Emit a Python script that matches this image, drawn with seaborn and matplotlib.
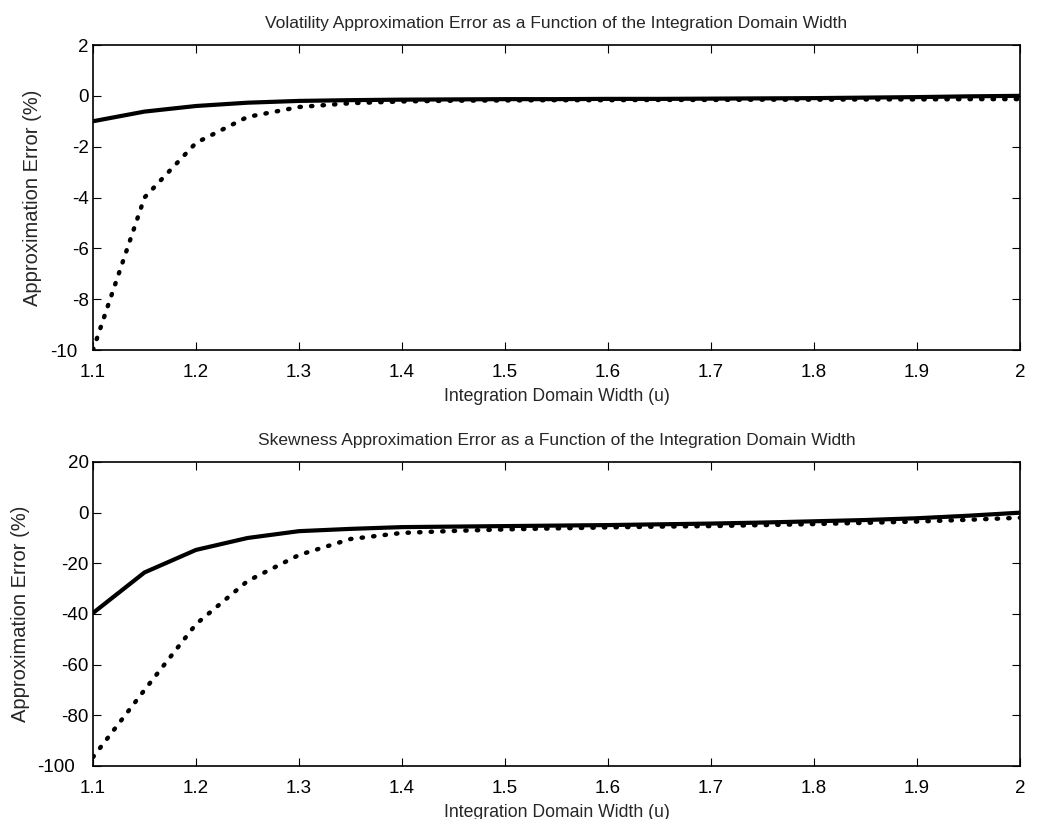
import numpy as np
import pandas as pd
import seaborn as sns
import matplotlib
matplotlib.use("Agg")
import matplotlib.pyplot as plt
import matplotlib.transforms as mtransforms

# Integration domain widths
u = [1.10, 1.15, 1.20, 1.25, 1.30, 1.35, 1.40, 1.45, 1.50, 1.55,
     1.60, 1.65, 1.70, 1.75, 1.80, 1.85, 1.90, 1.95, 2.00]

# Volatility approximation error (%)
vol_solid = [-1.00, -0.62, -0.40, -0.27, -0.20, -0.17, -0.15, -0.14, -0.13, -0.13,
             -0.12, -0.12, -0.11, -0.10, -0.09, -0.07, -0.05, -0.02, 0.00]
vol_dotted = [-10.0, -4.0, -1.85, -0.83, -0.44, -0.29, -0.22, -0.19, -0.18, -0.17,
              -0.17, -0.16, -0.16, -0.15, -0.15, -0.14, -0.14, -0.13, -0.13]

# Skewness approximation error (%)
skew_solid = [-39.6, -23.6, -14.7, -10.0, -7.3, -6.4, -5.7, -5.5, -5.3, -5.1,
              -4.9, -4.6, -4.3, -3.9, -3.4, -2.9, -2.2, -1.2, 0.0]
skew_dotted = [-96.5, -70.0, -44.0, -27.0, -16.7, -10.4, -8.0, -7.2, -6.6, -6.2,
               -5.8, -5.5, -5.3, -4.9, -4.5, -4.0, -3.5, -2.8, -2.0]

x_ticks = [1.1, 1.2, 1.3, 1.4, 1.5, 1.6, 1.7, 1.8, 1.9, 2.0]
x_ticklabels = ["1.1", "1.2", "1.3", "1.4", "1.5", "1.6", "1.7", "1.8", "1.9", "2"]
vol_yticks = [-10, -8, -6, -4, -2, 0, 2]
skew_yticks = [-100, -80, -60, -40, -20, 0, 20]

titles = ["Volatility Approximation Error as a Function of the Integration Domain Width",
          "Skewness Approximation Error as a Function of the Integration Domain Width"]
xlabel = "Integration Domain Width (u)"
ylabel = "Approximation Error (%)"

sns.set_theme(style="ticks")
plt.rcParams["font.family"] = ["Liberation Sans", "DejaVu Sans"]

fig = plt.figure(figsize=(10.52, 8.19), dpi=100)
ax1 = fig.add_axes([93 / 1052, 1 - 350 / 819, 927 / 1052, 305 / 819])
ax2 = fig.add_axes([93 / 1052, 1 - 766 / 819, 927 / 1052, 304 / 819])

panels = [
    (ax1, vol_solid, vol_dotted, vol_yticks, 6, 11),
    (ax2, skew_solid, skew_dotted, skew_yticks, 5, 14),
]

for (ax, solid, dotted, yticks, ypad, low_shift), title in zip(panels, titles):
    df = pd.DataFrame({"u": u, "solid": solid, "dotted": dotted})
    sns.lineplot(data=df, x="u", y="solid", ax=ax, color="black", linewidth=3.0)
    sns.lineplot(data=df, x="u", y="dotted", ax=ax, color="black", linewidth=3.2,
                 linestyle=(0, (0.3, 2.3)), dash_capstyle="round")
    ax.set_xlim(1.1, 2.0)
    ax.set_ylim(yticks[0], yticks[-1])
    ax.set_xticks(x_ticks)
    ax.set_xticklabels(x_ticklabels)
    ax.set_yticks(yticks)
    ax.set_yticklabels([str(t) for t in yticks])
    ax.tick_params(direction="in", top=True, right=True, length=6, width=0.8,
                   labelsize=13.5, colors="black")
    ax.tick_params(axis="x", pad=10)
    ax.tick_params(axis="y", pad=3)
    # nudge the lowest y tick label left so it clears the first x tick label
    low = ax.get_yticklabels()[0]
    low.set_transform(low.get_transform()
                      + mtransforms.ScaledTranslation(-low_shift / 100, 0,
                                                      fig.dpi_scale_trans))
    for sp in ax.spines.values():
        sp.set_visible(True)
        sp.set_linewidth(1.2)
        sp.set_color("black")
    ax.set_title(title, fontsize=12.5, pad=12)
    ax.set_xlabel(xlabel, fontsize=12.7, labelpad=5)
    ax.set_ylabel(ylabel, fontsize=14.5, labelpad=ypad)
    ax.grid(False)

fig.savefig("out.png", dpi=100, facecolor="white")
